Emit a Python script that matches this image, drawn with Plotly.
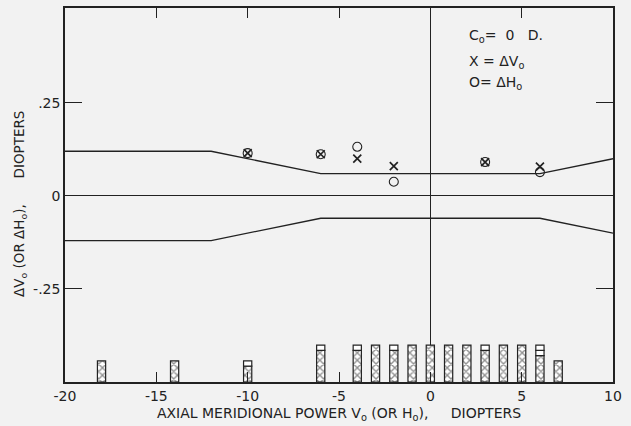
import plotly.graph_objects as go

# ---- data ----
band_x = [-20, -12, -6, 6, 10]
band_upper = [0.12, 0.12, 0.06, 0.06, 0.10]
band_lower = [-0.12, -0.12, -0.06, -0.06, -0.10]

pt_x = [-10, -6, -4, -2, 3, 6]
dV = [0.115, 0.112, 0.100, 0.080, 0.091, 0.079]
dH = [0.115, 0.112, 0.132, 0.038, 0.091, 0.064]

bar_x = [-18, -14, -10, -6, -4, -3, -2, -1, 0, 1, 2, 3, 4, 5, 6, 7]
hatched = [4, 4, 3, 6, 6, 7, 6, 7, 7, 7, 7, 6, 7, 7, 5, 4]
open_cells = [0, 0, 1, 1, 1, 0, 1, 0, 0, 0, 0, 1, 0, 0, 2, 0]

x_ticks = [-20, -15, -10, -5, 0, 5, 10]
x_ticktext = ["-20", "-15", "-10", "-5", "0", "5", "10"]
y_ticks = [-0.25, 0, 0.25]
y_ticktext = ["-.25", "0", ".25"]

legend_lines = ["C<sub>o</sub>=  0   D.", "X = ΔV<sub>o</sub>", "O= ΔH<sub>o</sub>"]
x_title = "AXIAL MERIDIONAL POWER V<sub>o</sub> (OR H<sub>o</sub>),     DIOPTERS"
y_title = "ΔV<sub>o</sub> (OR ΔH<sub>o</sub>),      DIOPTERS"

BG = "#f2f2f2"
FONT = "DejaVu Sans"
INK = "#222"

fig = go.Figure()

# band lines
for yy in (band_upper, band_lower):
    fig.add_trace(go.Scatter(x=band_x, y=yy, mode="lines",
                             line=dict(color=INK, width=1.3),
                             showlegend=False, hoverinfo="skip"))

# data points
fig.add_trace(go.Scatter(x=pt_x, y=dH, mode="markers",
                         marker=dict(symbol="circle-open", size=9,
                                     color=INK, line=dict(width=1.1)),
                         showlegend=False))
fig.add_trace(go.Scatter(x=pt_x, y=dV, mode="markers",
                         marker=dict(symbol="x-thin-open", size=8,
                                     color=INK, line=dict(width=1.7)),
                         showlegend=False))

# hatched part of each histogram column
fig.add_trace(go.Bar(x=bar_x, y=hatched, width=0.45, yaxis="y2",
                     marker=dict(color="white",
                                 line=dict(color=INK, width=1.2),
                                 pattern=dict(shape="x", size=5.3, solidity=0.45,
                                              fgcolor=INK, bgcolor="white")),
                     showlegend=False))

# open cells on top (one cell per count)
ox, ob = [], []
for x, h, o in zip(bar_x, hatched, open_cells):
    for k in range(o):
        ox.append(x); ob.append(h + k)
fig.add_trace(go.Bar(x=ox, y=[1] * len(ox), base=ob, width=0.45,
                     yaxis="y2",
                     marker=dict(color="white",
                                 line=dict(color=INK, width=1.2)),
                     showlegend=False))

fig.update_layout(
    width=631, height=426,
    margin=dict(l=65, r=18, t=6, b=44),
    paper_bgcolor=BG, plot_bgcolor=BG,
    barmode="overlay",
    font=dict(family=FONT, size=13, color=INK),
    xaxis=dict(range=[-20, 10], tickvals=x_ticks, ticktext=x_ticktext,
               ticks="inside", ticklen=10, tickcolor=INK,
               tickfont=dict(size=14),
               showline=True, linecolor=INK, linewidth=1.5, mirror="ticks",
               showgrid=False, zeroline=True, zerolinecolor=INK,
               zerolinewidth=1,
               title=dict(text=x_title, font=dict(size=14), standoff=6)),
    yaxis=dict(range=[-0.5, 0.505], tickvals=y_ticks, ticktext=y_ticktext,
               ticks="inside", ticklen=17, tickcolor=INK,
               tickfont=dict(size=14),
               showline=True, linecolor=INK, linewidth=1.5, mirror="ticks",
               showgrid=False, zeroline=True, zerolinecolor=INK,
               zerolinewidth=1),
    yaxis2=dict(range=[0, 71], overlaying="y", visible=False),
)

fig.add_annotation(x=-0.082, y=0.476, xref="paper", yref="paper",
                   text=y_title, textangle=-90, showarrow=False,
                   xanchor="center", yanchor="middle",
                   font=dict(size=13.5, family=FONT, color=INK))

legend_y = [0.925, 0.855, 0.80]
for t, yy in zip(legend_lines, legend_y):
    fig.add_annotation(x=0.734, y=yy, xref="x domain", yref="y domain",
                       text=t, showarrow=False, xanchor="left", yanchor="middle",
                       font=dict(size=14, family=FONT, color=INK))

fig.write_html("out.html")
